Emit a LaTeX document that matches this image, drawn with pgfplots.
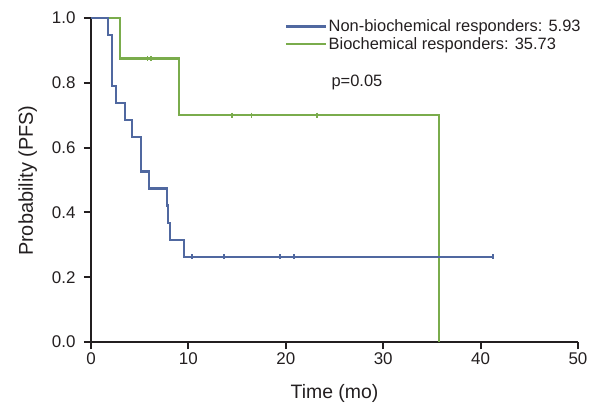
\documentclass[border=0pt]{standalone}
\usepackage{fontspec}
\setmainfont{Liberation Sans}
\usepackage{pgfplots}
\pgfplotsset{compat=1.18}
\definecolor{kmblue}{RGB}{80,104,160}
\definecolor{kmgreen}{RGB}{122,172,76}
\definecolor{axisgray}{RGB}{35,31,32}
\begin{document}
\begin{tikzpicture}
\begin{axis}[
  scale only axis,
  width=487bp, height=324bp,
  xmin=0, xmax=50, ymin=0, ymax=1,
  axis lines=left,
  axis line style={draw=axisgray, line width=2.2bp, -},
  every non boxed x axis/.append style={xtick align=outside},
  every non boxed y axis/.append style={ytick align=outside},
  xtick={0,10,20,30,40,50},
  ytick={0,0.2,0.4,0.6,0.8,1.0},
  yticklabel style={/pgf/number format/fixed, /pgf/number format/fixed zerofill, /pgf/number format/precision=1},
  /pgf/number format/assume math mode=true,
  tick style={axisgray, line width=2bp},
  tick align=outside,
  major tick length=7bp,
  ticklabel style={font=\fontsize{17}{19}\selectfont, text=axisgray},
  xticklabel style={anchor=north, yshift=0bp},
  yticklabel style={anchor=east, xshift=-5bp},
  xlabel={Time (mo)},
  ylabel={Probability (PFS)},
  xlabel style={font=\fontsize{19.5}{21}\selectfont, text=axisgray,
    at={([yshift=-56bp]axis description cs:0.5,0)}, anchor=base},
  ylabel style={font=\fontsize{20}{22}\selectfont, text=axisgray,
    at={([xshift=-58bp]axis description cs:0,0.498)}, anchor=base},
  legend style={draw=none, fill=none, at={(axis description cs:0.398,1.0)}, anchor=north west,
    font=\fontsize{16.5}{18}\selectfont, text=axisgray, inner sep=0pt, row sep=1.2bp,
    nodes={inner sep=1.5bp}},
  legend cell align=left,
  legend image code/.code={\draw[#1, line width=2.2bp] (0bp,0bp) -- (40bp,0bp);},
  clip=false,
]
\addlegendimage{kmblue}
\addlegendentry{Non-biochemical responders: 5.93}
\addlegendimage{kmgreen}
\addlegendentry{Biochemical responders: 35.73}

% Biochemical responders (green)
\addplot[const plot, kmgreen, line width=2.2bp, forget plot] coordinates {
  (0,1) (3.0,0.875) (9.07,0.70) (35.73,0)
};
\addplot[only marks, mark=|, mark size=2.5bp, kmgreen, mark options={line width=1.6bp}, forget plot] coordinates {
  (5.82,0.875) (6.19,0.875) (14.5,0.70) (16.46,0.70) (23.2,0.70)
};
% Non-biochemical responders (blue)
\addplot[const plot, kmblue, line width=2.2bp, forget plot] coordinates {
  (0,1) (1.71,0.947) (2.12,0.895) (2.19,0.789) (2.6,0.737) (3.46,0.684)
  (4.21,0.632) (5.13,0.526) (5.99,0.474) (7.77,0.421) (7.94,0.368)
  (8.11,0.316) (9.55,0.263) (41.3,0.263)
};
\addplot[only marks, mark=|, mark size=2.5bp, kmblue, mark options={line width=1.6bp}, forget plot] coordinates {
  (10.4,0.263) (13.65,0.263) (19.4,0.263) (20.84,0.263) (41.3,0.263)
};
\node[anchor=west, font=\fontsize{16.5}{18}\selectfont, text=axisgray, inner sep=0pt] at (axis cs:24.68,0.80) {p=0.05};
% bounding box to match the reference margins
\path ([xshift=-91bp, yshift=-65bp]rel axis cs:0,0) rectangle ([xshift=18bp, yshift=18bp]rel axis cs:1,1);
\end{axis}
\end{tikzpicture}
\end{document}
